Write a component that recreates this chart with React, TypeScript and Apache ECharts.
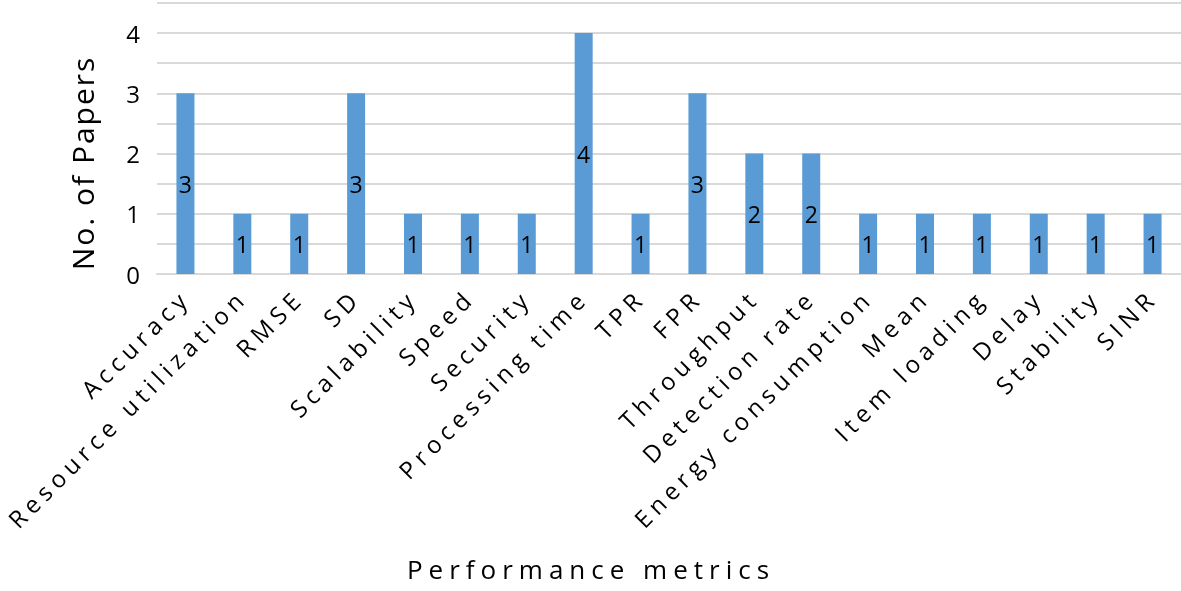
import React, { useEffect, useRef } from "react";
import * as echarts from "echarts";

const categories = [
  "Accuracy", "Resource utilization", "RMSE", "SD", "Scalability", "Speed",
  "Security", "Processing time", "TPR", "FPR", "Throughput", "Detection rate",
  "Energy consumption", "Mean", "Item loading", "Delay", "Stability", "SINR",
];
const papers = [3, 1, 1, 3, 1, 1, 1, 4, 1, 3, 2, 2, 1, 1, 1, 1, 1, 1];
const yAxisTitle = "No. of Papers";
const xAxisTitle = "Performance metrics";

const FONT = "Open Sans";

function applySpacing(root: HTMLElement) {
  const texts = root.querySelectorAll("text");
  texts.forEach((t) => {
    const s = (t.textContent || "").trim();
    const el = t as unknown as SVGTextElement;
    if (categories.includes(s)) el.style.letterSpacing = "5.3px";
    else if (s === xAxisTitle) el.style.letterSpacing = "6px";
    else if (s === yAxisTitle) el.style.letterSpacing = "2px";
  });
}

export default function App() {
  const ref = useRef<HTMLDivElement>(null);
  useEffect(() => {
    const root = ref.current!;
    const chart = echarts.init(root, null, { renderer: "svg" });
    chart.setOption({
      animation: false,
      textStyle: { fontFamily: FONT },
      grid: { left: 157, right: 0, top: 3, bottom: 317, containLabel: false },
      xAxis: {
        type: "category",
        data: categories,
        axisLine: { show: true, lineStyle: { color: "#d9d9d9", width: 2 } },
        axisTick: { show: false },
        axisLabel: {
          interval: 0,
          rotate: 45,
          fontSize: 24,
          color: "#000",
          margin: 19,
          fontFamily: FONT,
        },
      },
      yAxis: {
        type: "value",
        min: 0,
        max: 4.5,
        interval: 0.5,
        axisLine: { show: false },
        axisTick: { show: false },
        splitLine: { lineStyle: { color: "#d9d9d9", width: 2 } },
        axisLabel: {
          fontSize: 24,
          color: "#000",
          margin: 17,
          fontFamily: FONT,
          formatter: (v: number) => (Number.isInteger(v) ? String(v) : ""),
        },
      },
      graphic: [
        {
          type: "text",
          x: 591,
          y: 569,
          style: {
            text: xAxisTitle,
            fontSize: 26,
            fill: "#000",
            fontFamily: FONT,
            align: "center",
            verticalAlign: "middle",
          },
        },
        {
          type: "text",
          x: 82,
          y: 163,
          rotation: Math.PI / 2,
          style: {
            text: yAxisTitle,
            fontSize: 30,
            fill: "#000",
            fontFamily: FONT,
            align: "center",
            verticalAlign: "middle",
          },
        },
      ],
      series: [
        {
          type: "bar",
          data: papers,
          barWidth: 18,
          itemStyle: { color: "#5b9bd5" },
          label: {
            show: true,
            position: "inside",
            fontSize: 23,
            color: "#000",
            fontFamily: FONT,
          },
        },
      ],
    });
    applySpacing(root);
    chart.on("finished", () => applySpacing(root));
    const raf = requestAnimationFrame(() => applySpacing(root));
    return () => {
      cancelAnimationFrame(raf);
      chart.dispose();
    };
  }, []);
  return (
    <div
      ref={ref}
      style={{ position: "fixed", left: 0, top: 0, width: 1181, height: 591 }}
    />
  );
}
